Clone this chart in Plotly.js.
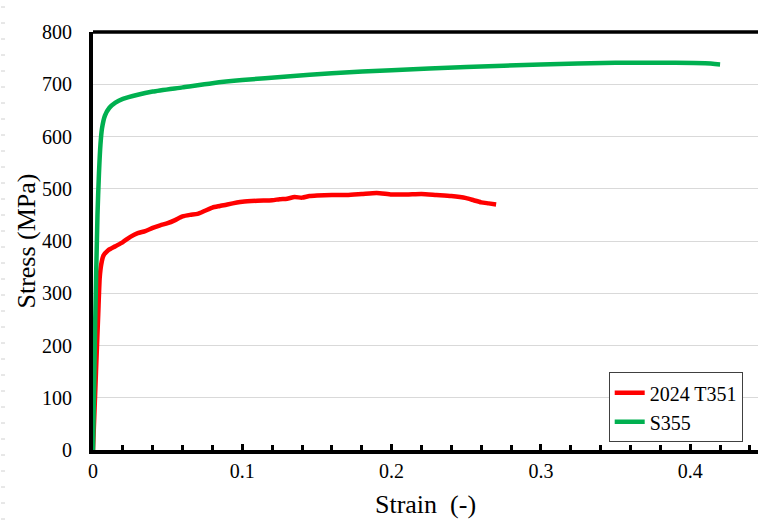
<!DOCTYPE html>
<html>
<head>
<meta charset="utf-8">
<script src="https://cdn.plot.ly/plotly-3.0.1.min.js"></script>
<style>html,body{margin:0;padding:0;background:#fff;}#chart{width:758px;height:524px;}</style>
</head>
<body>
<div id="chart"></div>
<script>
// Data
const seriesNames = ["2024 T351", "S355"];

const strainAl = [0, 0.002, 0.0035, 0.0045, 0.0055, 0.007, 0.01, 0.015, 0.02, 0.025, 0.03, 0.035, 0.04, 0.045, 0.05, 0.055, 0.06, 0.065, 0.07, 0.075, 0.08, 0.085, 0.09, 0.1, 0.11, 0.12, 0.125, 0.13, 0.135, 0.14, 0.145, 0.15, 0.16, 0.17, 0.18, 0.19, 0.2, 0.21, 0.22, 0.23, 0.24, 0.25, 0.255, 0.26, 0.265, 0.27];
const stressAl = [0, 150, 260, 330, 355, 372, 382, 390, 398, 408, 415, 419, 425, 430, 434, 440, 447, 450, 452, 458, 464, 467, 470, 475, 477, 478, 480, 481, 484, 483, 486, 487, 488, 488, 490, 492, 489, 489, 490, 488, 486, 482, 478, 474, 472, 470];

const strainSt = [0, 0.0015, 0.003, 0.004, 0.005, 0.006, 0.008, 0.011, 0.015, 0.02, 0.03, 0.04, 0.06, 0.08, 0.1, 0.13, 0.16, 0.2, 0.25, 0.3, 0.35, 0.39, 0.41, 0.42];
const stressSt = [0, 250, 450, 530, 585, 615, 640, 655, 665, 672, 680, 686, 694, 702, 708, 715, 721, 727, 733, 738, 741, 741, 740, 738];

const xTickVals = [0, 0.1, 0.2, 0.3, 0.4];
const xTickText = ["0", "0.1", "0.2", "0.3", "0.4"];
const yTickVals = [0, 100, 200, 300, 400, 500, 600, 700, 800];

const font = "'Liberation Serif', serif";

const traces = [
  {x: strainAl, y: stressAl, name: seriesNames[0], mode: "lines",
   line: {color: "#FF0000", width: 4.5, shape: "spline", smoothing: 0.6}},
  {x: strainSt, y: stressSt, name: seriesNames[1], mode: "lines",
   line: {color: "#00B050", width: 4.5, shape: "spline", smoothing: 0.6}}
];

// decorative light dashes along left page edge
const shapes = [];
for (let py = 7; py < 524; py += 16) {
  shapes.push({type: "line", xref: "paper", yref: "paper",
    x0: (1 - 93) / 665, x1: (5 - 93) / 665,
    y0: (450 - py) / 418, y1: (450 - py) / 418,
    line: {color: "#d0d0d0", width: 1}});
}
shapes.push({type: "line", xref: "paper", yref: "paper", x0: 0, x1: 1.02, y0: 1, y1: 1,
  line: {color: "#000", width: 3.5}});

const layout = {
  width: 758, height: 524,
  margin: {l: 93, r: 0, t: 32, b: 74, pad: 0},
  paper_bgcolor: "#fff", plot_bgcolor: "#fff",
  font: {family: font, color: "#000", size: 20},
  showlegend: true,
  legend: {x: 0.977, y: 0.186, xanchor: "right", yanchor: "top",
    bgcolor: "#fff", bordercolor: "#404040", borderwidth: 1,
    font: {family: font, size: 20, color: "#000"},
    tracegroupgap: 0, itemwidth: 30},
  xaxis: {
    range: [0, 0.4454], tickvals: xTickVals, ticktext: xTickText,
    showgrid: false, zeroline: false,
    showline: true, linecolor: "#000", linewidth: 4,
    ticks: "inside", ticklen: 6, tickwidth: 3, tickcolor: "#000",
    minor: {dtick: 0.02, ticks: "inside", ticklen: 5, tickwidth: 3, tickcolor: "#000", showgrid: false},
    tickfont: {family: font, size: 20},
    title: {text: "Strain  (-)", font: {family: font, size: 26}, standoff: 15},
    automargin: false
  },
  yaxis: {
    range: [0, 800], tickvals: yTickVals,
    showgrid: true, gridcolor: "#d9d9d9", gridwidth: 1,
    zeroline: false,
    showline: true, linecolor: "#000", linewidth: 4,
    ticks: "outside", ticklen: 13, tickcolor: "rgba(0,0,0,0)",
    tickfont: {family: font, size: 20},
    title: {text: "Stress (MPa)", font: {family: font, size: 26}, standoff: 0},
    automargin: false
  },
  shapes: shapes
};

Plotly.newPlot("chart", traces, layout, {displayModeBar: false, staticPlot: true});
</script>
</body>
</html>
